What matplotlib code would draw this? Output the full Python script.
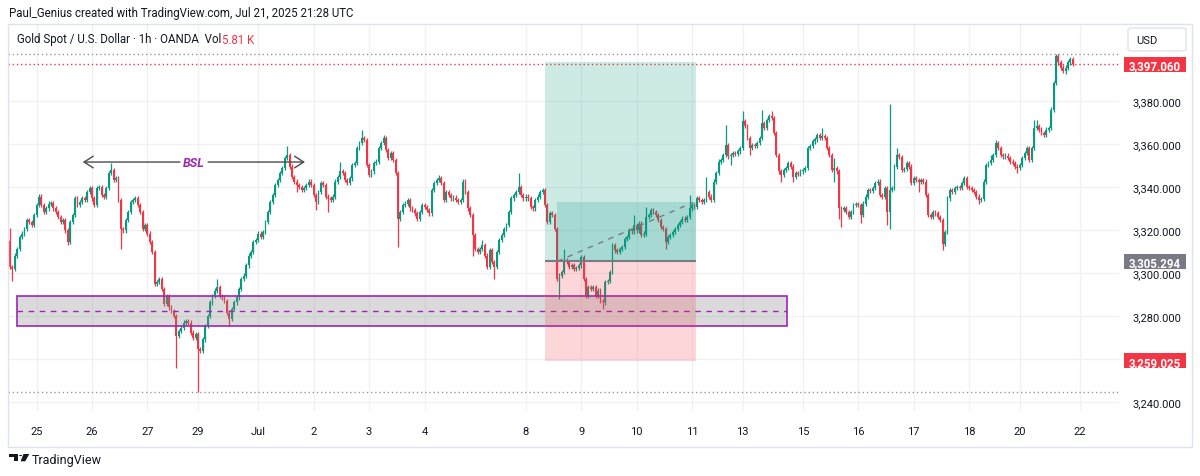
import numpy as np
import matplotlib
matplotlib.use("Agg")
import matplotlib.pyplot as plt
from matplotlib.patches import Rectangle, FancyBboxPatch, Polygon, Circle
from matplotlib.transforms import blended_transform_factory

plt.rcParams['font.family'] = ['Roboto', 'DejaVu Sans']

# ---------------- data ----------------
day_labels = ["24", "25", "26", "27", "29", "30", "Jul", "2", "3", "4", "6", "7",
              "8", "9", "10", "11", "13", "14", "15", "16", "17", "18", "20", "21", "22"]
day_bar_counts = [11, 23, 23, 21, 2, 23, 23, 23, 23, 17, 2, 23,
                  23, 23, 23, 21, 2, 23, 23, 23, 23, 21, 2, 23, 23]
shown_days = ["25", "26", "27", "29", "Jul", "2", "3", "4", "8", "9", "10", "11",
              "13", "15", "16", "17", "18", "20", "22"]

first_open = 3315.0

closes_wk1 = [3302.6, 3301.8, 3308.0, 3311.2, 3316.6, 3318.2, 3320.5, 3324.4, 3323.7, 3322.1,
              3326.8, 3331.5, 3335.4, 3331.5, 3328.3, 3329.9, 3332.2, 3332.6, 3329.9, 3328.3,
              3326.0, 3323.7, 3324.4, 3319.7, 3314.3, 3323.7, 3326.8, 3334.6, 3331.5, 3333.0,
              3334.6, 3333.8, 3337.7, 3339.3, 3334.6, 3331.5, 3339.3, 3340.0, 3336.1, 3335.4,
              3339.3, 3346.3, 3347.8, 3343.2, 3343.9, 3333.8, 3320.5, 3319.7, 3324.4, 3328.3,
              3333.0, 3333.8, 3334.6, 3331.5, 3328.3, 3320.5, 3322.1, 3318.2, 3314.3, 3309.6,
              3294.8, 3295.6, 3297.1, 3292.4, 3285.4, 3289.3, 3283.9, 3282.3, 3280.0, 3270.6,
              3272.9, 3274.5, 3276.8, 3277.6, 3276.8, 3272.2, 3269.8, 3271.4]

closes_wk2 = [3264.4, 3263.6, 3269.0, 3275.3, 3280.0, 3286.2, 3289.3, 3291.7, 3293.2, 3289.3,
              3288.5, 3287.0, 3281.5, 3278.4, 3283.1, 3286.2, 3288.5, 3292.4, 3297.1, 3298.7,
              3303.4, 3308.0, 3309.6, 3314.3, 3315.1, 3318.2, 3316.6, 3319.0, 3323.7, 3328.3,
              3333.0, 3336.1, 3340.8, 3343.2, 3346.3, 3348.6, 3353.3, 3354.9, 3349.4, 3344.7,
              3342.4, 3340.8, 3340.0, 3338.5, 3339.3, 3340.8, 3342.4, 3340.8, 3336.1, 3333.0,
              3337.7, 3341.6, 3340.8, 3335.4, 3334.6, 3334.0, 3335.4, 3342.4, 3344.7, 3347.1,
              3346.3, 3343.2, 3341.6, 3343.9, 3350.2, 3351.0, 3358.0, 3360.3, 3362.7, 3361.9,
              3350.2, 3345.5, 3347.1, 3351.0, 3351.7, 3358.0, 3360.3, 3362.7, 3357.2, 3353.3,
              3355.6, 3352.5, 3346.3, 3325.2, 3328.3, 3331.5, 3332.2, 3333.8, 3329.9, 3329.1,
              3327.6, 3325.2, 3328.3, 3331.5, 3330.7, 3329.1, 3327.6, 3338.5, 3341.6, 3343.2,
              3343.9, 3341.6, 3333.8, 3337.7, 3336.1, 3334.6, 3335.0, 3333.8, 3333.0, 3333.8,
              3342.4]

closes_wk3 = [3337.7, 3329.9, 3326.8, 3317.4, 3311.2, 3309.6, 3311.2, 3312.7, 3308.0, 3302.6,
              3310.4, 3304.9, 3302.6, 3309.6, 3315.1, 3317.4, 3320.5, 3322.1, 3328.3, 3334.6,
              3336.1, 3337.7, 3340.0, 3336.1, 3334.6, 3335.4, 3334.6, 3330.7, 3329.9, 3333.8,
              3335.4, 3337.7, 3338.5, 3331.5, 3323.7, 3327.6, 3326.8, 3320.5, 3297.1, 3298.7,
              3300.2, 3305.7, 3304.9, 3302.6, 3303.4, 3301.8, 3302.2, 3303.4, 3307.3, 3297.1,
              3289.3, 3293.2, 3292.4, 3293.2, 3289.3, 3291.7, 3287.0, 3286.2, 3295.6, 3296.3,
              3300.2, 3312.7, 3310.4, 3309.6, 3311.2, 3311.9, 3315.8, 3316.6, 3319.7, 3319.2,
              3322.1, 3319.7, 3322.9, 3317.4, 3318.2, 3326.0, 3326.8, 3329.1, 3328.3, 3326.8,
              3324.4, 3321.3, 3320.5, 3314.3, 3316.6, 3317.4, 3319.0, 3320.5, 3322.1, 3323.7,
              3325.2, 3324.4, 3326.0, 3329.9, 3331.5, 3330.7, 3334.6, 3333.8, 3333.0, 3333.8,
              3337.7, 3335.4, 3333.8, 3342.4, 3346.3, 3351.7, 3352.5, 3354.9, 3359.5, 3354.1,
              3354.9, 3355.6, 3355.2, 3356.4, 3358.0]

closes_wk4 = [3370.5, 3368.1, 3362.7, 3358.0, 3359.5, 3358.8, 3360.3, 3362.7, 3369.7, 3367.3,
              3371.2, 3372.8, 3372.0, 3365.0, 3354.9, 3347.1, 3345.5, 3347.8, 3348.6, 3351.0,
              3349.4, 3344.7, 3346.3, 3345.9, 3347.1, 3347.8, 3348.6, 3358.0, 3358.8, 3361.1,
              3362.0, 3364.2, 3362.7, 3363.4, 3362.7, 3358.0, 3354.9, 3347.8, 3348.6, 3347.1,
              3329.9, 3329.1, 3329.9, 3328.3, 3326.0, 3328.3, 3331.5, 3332.0, 3331.5, 3326.8,
              3332.2, 3335.4, 3338.5, 3338.0, 3339.3, 3341.6, 3342.4, 3336.1, 3335.4, 3339.3,
              3328.3, 3338.5, 3339.3, 3349.4, 3354.9, 3353.8, 3347.8, 3348.2, 3351.0, 3349.4,
              3341.6, 3343.9, 3343.2, 3342.4, 3343.2, 3342.4, 3336.1, 3326.8, 3326.0, 3328.3,
              3327.6, 3326.0, 3324.4, 3313.5, 3319.0, 3334.6, 3338.5, 3337.7, 3339.3, 3340.0,
              3339.6, 3341.6, 3343.9, 3340.0, 3339.3, 3338.5, 3337.7, 3335.4, 3333.8, 3334.2,
              3342.4, 3350.2, 3351.0, 3352.5, 3354.9, 3360.3, 3358.0, 3354.9, 3354.1, 3354.5,
              3353.3, 3351.7, 3351.0, 3349.4, 3348.8]

closes_wk5 = [3350.2, 3353.3, 3355.6, 3358.0, 3352.5, 3358.0, 3367.3, 3368.1, 3366.6, 3365.0,
              3364.2, 3366.6, 3367.3, 3375.9, 3388.4, 3400.9, 3397.8, 3395.4, 3393.9, 3395.4,
              3397.8, 3399.3, 3397.06]

wick_highs = {0: 3321.0, 13: 3336.5, 42: 3351.0, 86: 3297.1, 115: 3358.8, 137: 3351.7,
              146: 3366.6, 155: 3364.2, 178: 3345.5, 196: 3315.1, 211: 3346.3, 230: 3311.2,
              259: 3326.8, 264: 3330.7, 282: 3336.1, 289: 3344.7, 297: 3368.9, 304: 3375.2,
              312: 3375.9, 316: 3375.2, 337: 3367.3, 342: 3353.3, 365: 3378.3, 368: 3358.0,
              396: 3344.7, 407: 3354.9, 409: 3361.9, 425: 3371.2, 426: 3371.2, 434: 3401.8}
wick_lows = {1: 3296.3, 24: 3312.7, 46: 3311.2, 69: 3255.8, 78: 3244.7, 91: 3275.3,
             119: 3337.7, 127: 3329.1, 132: 3328.3, 161: 3312.0, 192: 3308.0, 201: 3297.1,
             228: 3287.8, 246: 3283.1, 272: 3311.2, 299: 3350.2, 307: 3354.9, 320: 3342.4,
             325: 3342.4, 342: 3342.4, 344: 3325.2, 345: 3321.3, 353: 3323.0, 364: 3322.0,
             365: 3320.5, 377: 3337.7, 387: 3310.4, 402: 3332.2, 418: 3346.3, 438: 3392.3}

price_ticks = [3240, 3260, 3280, 3300, 3320, 3340, 3360, 3380]
hidden_price_labels = [3260]          # covered by the stop-price badge in the reference
last_price = 3397.06
entry_price = 3305.294
stop_price = 3259.025
target_price = 3398.1
position_close = 3332.7
zone_top = 3289.3
zone_bottom = 3275.1
zone_mid = 3282.3
bsl_price = 3351.5

# ---------------- derived series ----------------
closes = np.array(closes_wk1 + closes_wk2 + closes_wk3 + closes_wk4 + closes_wk5)
n = len(closes)
opens = np.concatenate([[first_open], closes[:-1]])
idx = np.arange(n)
wick_pad = 1.0
highs = np.maximum(opens, closes) + wick_pad
lows = np.minimum(opens, closes) - wick_pad
for b, v in wick_highs.items():
    highs[b] = max(highs[b], v)
for b, v in wick_lows.items():
    lows[b] = min(lows[b], v)

# ---------------- figure ----------------
W, H = 1200, 477
fig = plt.figure(figsize=(W / 100, H / 100), dpi=100)
fig.patch.set_facecolor('white')


def fx(px):
    return px / W


def fy(py):
    return 1 - py / H


PANE_L, PANE_R, PANE_T, PANE_B = 8, 1119, 25, 412
BAR_PX, X0_PX = 2.41, 10
ax = fig.add_axes([fx(PANE_L), fy(PANE_B), (PANE_R - PANE_L) / W, (PANE_B - PANE_T) / H])
ax.set_xlim((PANE_L - X0_PX) / BAR_PX, (PANE_R - X0_PX) / BAR_PX)
ax.set_ylim(3235.7, 3415.7)
for s in ax.spines.values():
    s.set_visible(False)
ax.set_facecolor('white')

UP, DN = '#089981', '#F23645'
TXT = '#131722'

# candles
up = closes >= opens
cols = np.where(up, UP, DN)
ax.vlines(idx, lows, highs, colors=cols, lw=0.9, zorder=3)
body_lo = np.minimum(opens, closes)
body_h = np.maximum(np.abs(closes - opens), 0.4)
ax.bar(idx, body_h, bottom=body_lo, width=0.78, color=cols, linewidth=0, zorder=3)

# grid + ticks
starts = np.concatenate([[0], np.cumsum(day_bar_counts)[:-1]])
tick_pos = [s for s, l in zip(starts, day_labels) if l in shown_days]
tick_lab = [l for l in day_labels if l in shown_days]
ax.set_xticks(tick_pos, tick_lab)
ax.set_yticks(price_ticks, ["" if p in hidden_price_labels else f"{p:,.3f}" for p in price_ticks])
ax.yaxis.tick_right()
ax.tick_params(axis='both', length=0, labelsize=8, labelcolor=TXT)
ax.tick_params(axis='x', pad=11)
ax.tick_params(axis='y', pad=10)
ax.grid(True, color='#f0f1f3', lw=1)
ax.set_axisbelow(True)

# dotted reference lines (visible high / low, last price)
ax.axhline(highs.max(), color='#9598A1', lw=1, ls=(0, (1, 2)), zorder=2)
ax.axhline(lows.min(), color='#9598A1', lw=1, ls=(0, (1, 2)), zorder=2)
ax.axhline(last_price, color=DN, lw=1, ls=(0, (1, 2)), zorder=2)

# demand zone box
zl, zr = 2.8, 322.3
ax.add_patch(Rectangle((zl, zone_bottom), zr - zl, zone_top - zone_bottom,
                       fc=(0.52, 0.52, 0.52, 0.30), ec='none', zorder=5))
ax.add_patch(Rectangle((zl, zone_bottom), zr - zl, zone_top - zone_bottom,
                       fill=False, ec='#9C27B0', lw=1.2, zorder=5))
ax.hlines(zone_mid, zl, zr, colors='#9C27B0', lw=1, linestyles=(0, (4, 4)), zorder=5)

# long position tool
pl, pr, pin = 222.0, 284.5, 227.1
ax.add_patch(Rectangle((pl, entry_price), pr - pl, target_price - entry_price,
                       fc=(8/255, 153/255, 129/255, 0.2), ec='none', zorder=5))
ax.add_patch(Rectangle((pl, stop_price), pr - pl, entry_price - stop_price,
                       fc=(242/255, 54/255, 69/255, 0.2), ec='none', zorder=5))
ax.add_patch(Rectangle((pin, entry_price), pr - pin, position_close - entry_price,
                       fc=(8/255, 153/255, 129/255, 0.2), ec='none', zorder=5))
ax.hlines(entry_price, pl, pr, colors='#787B86', lw=1.5, zorder=6)
ax.plot([pin, pr - 1], [entry_price, position_close], color='#787B86', lw=1,
        ls=(0, (4, 4)), zorder=6)

# BSL double arrow
bl, gl, gr, br, bt = 30.2, 70.5, 82.2, 122.4, 76.1
arrow_kw = dict(arrowstyle='->,head_length=0.55,head_width=0.35', color='#4a4a4a', lw=1,
                shrinkA=0, shrinkB=0, mutation_scale=12)
ax.annotate('', xy=(bl, bsl_price), xytext=(gl, bsl_price), arrowprops=arrow_kw, zorder=6)
ax.annotate('', xy=(br, bsl_price), xytext=(gr, bsl_price), arrowprops=arrow_kw, zorder=6)
ax.text(bt, bsl_price, 'BSL', color='#9C27B0', fontsize=9, fontweight='bold',
        fontstyle='italic', ha='center', va='center', zorder=7)

# price badges on the scale
trans = blended_transform_factory(ax.transAxes, ax.transData)
span = PANE_R - PANE_L
bx0 = (1124 - PANE_L) / span
bw = 62 / span
bh = 15 * 180 / 387


def badge(price, text, color):
    ax.add_patch(Rectangle((bx0, price - bh / 2), bw, bh, transform=trans, fc=color,
                           ec='none', clip_on=False, zorder=20))
    ax.text(bx0 + bw / 2, price, text, transform=trans, ha='center', va='center_baseline',
            color='white', fontsize=8.3, fontweight='bold', zorder=21, clip_on=False)


badge(last_price, f"{last_price:,.3f}", DN)
badge(entry_price, f"{entry_price:,.3f}", '#787B86')
badge(stop_price, f"{stop_price:,.3f}", DN)

# frame
fig.add_artist(Rectangle((fx(8), fy(448)), (1192 - 8) / W, (448 - 25) / H,
                         transform=fig.transFigure, fill=False, ec='#e0e3eb', lw=1))

# USD box
fig.add_artist(FancyBboxPatch((fx(1128), fy(52)), (1186 - 1128) / W, 23 / H,
                              boxstyle='round,pad=0,rounding_size=0.004',
                              transform=fig.transFigure, fc='white', ec='#e0e3eb', lw=1))
fig.text(fx(1136), fy(41), 'USD', fontsize=8, color=TXT, va='center')

# header and legend
fig.text(fx(9), fy(14), 'Paul_Genius created with TradingView.com, Jul 21, 2025 21:28 UTC',
         fontsize=8.3, color=TXT, va='center')
t1 = fig.text(fx(17), fy(40), 'Gold Spot / U.S. Dollar · 1h · OANDA  Vol',
              fontsize=8.3, color=TXT, va='center')
fig.canvas.draw()
bb = t1.get_window_extent()
fig.text(bb.x1 / W + 0.5 / W, fy(40), '5.81 K', fontsize=8.3, color=DN, va='center')

# TradingView logo (drawn from simple shapes) + wordmark
def pxpoly(pts):
    return Polygon([(fx(x), fy(y)) for x, y in pts], closed=True, transform=fig.transFigure,
                   fc=TXT, ec='none')


fig.add_artist(pxpoly([(9.3, 455), (18.3, 455), (18.3, 462.3), (13.8, 462.3), (13.8, 458), (9.3, 458)]))
fig.add_artist(Circle((fx(20.6), fy(456.5)), 1.5 / W, transform=fig.transFigure, fc=TXT, ec='none'))
fig.add_artist(pxpoly([(23.5, 455), (29.3, 455), (25.2, 462.3), (20.6, 462.3)]))
fig.text(fx(31.5), fy(461), 'TradingView', fontsize=9, color=TXT, va='center')

fig.savefig('out.png', dpi=100, facecolor='white')
